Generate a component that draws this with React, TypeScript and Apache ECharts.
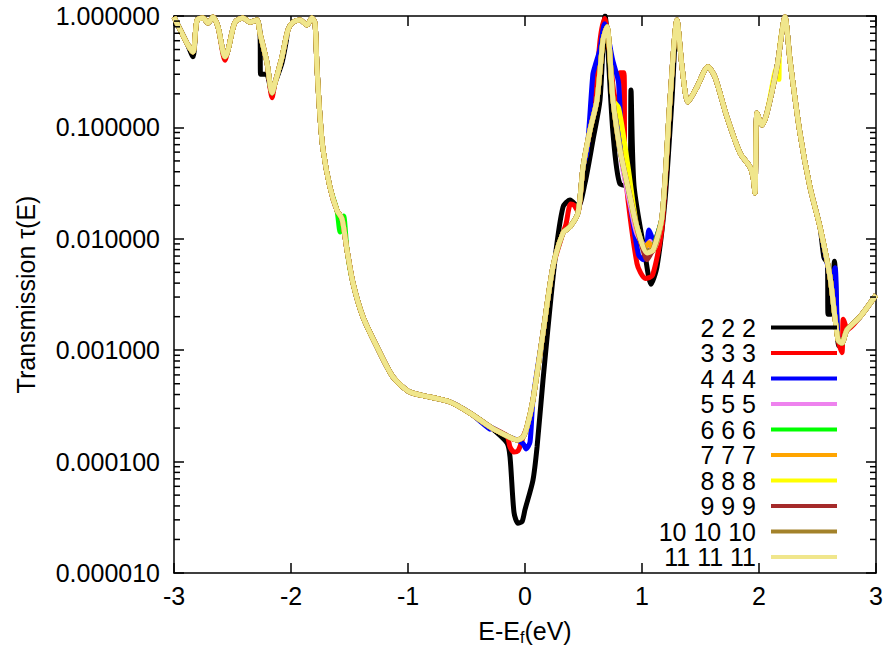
import React, { useEffect, useRef } from "react";
import * as echarts from "echarts";

// ---------- data ----------
const seriesNames = ["2 2 2", "3 3 3", "4 4 4", "5 5 5", "6 6 6", "7 7 7", "8 8 8", "9 9 9", "10 10 10", "11 11 11"];
const seriesColors = ["#000000", "#ff0000", "#0000ff", "#ee82ee", "#00ff00", "#ffa500", "#ffff00", "#a52a2a", "#a3822a", "#f0e68c"];

const xTicks = [-3, -2, -1, 0, 1, 2, 3];

// common (converged) curve, shared by all k-meshes
const baseX = [-3.0, -2.889, -2.838, -2.803, -2.752, -2.709, -2.667, -2.624, -2.564, -2.538, -2.479, -2.41, -2.35, -2.291, -2.265, -2.205, -2.162, -2.137, -2.077, -2.026, -1.983, -1.923, -1.863, -1.821, -1.795, -1.778, -1.752, -1.726, -1.667, -1.607, -1.564, -1.521, -1.47, -1.385, -1.265, -1.128, -0.983, -0.812, -0.641, -0.47, -0.299, -0.154, -0.068, -0.017, 0.017, 0.068, 0.154, 0.239, 0.325, 0.385, 0.453, 0.496, 0.556, 0.615, 0.667, 0.701, 0.752, 0.812, 0.88, 0.957, 1.043, 1.094, 1.171, 1.239, 1.299, 1.342, 1.393, 1.47, 1.564, 1.624, 1.726, 1.838, 1.923, 1.949, 1.966, 1.983, 2.026, 2.068, 2.154, 2.222, 2.265, 2.35, 2.436, 2.521, 2.607, 2.675, 2.709, 2.752, 2.863, 3.0];
const baseY = [0.98, 0.57, 0.475, 0.92, 0.96, 0.865, 0.98, 0.8, 0.43, 0.495, 0.88, 0.96, 0.88, 0.92, 0.7, 0.38, 0.204, 0.25, 0.43, 0.75, 0.88, 0.92, 0.83, 0.96, 0.865, 0.35, 0.124, 0.063, 0.029, 0.018, 0.0151, 0.0079, 0.004, 0.00199, 0.00107, 0.000574, 0.000421, 0.00038, 0.000343, 0.000273, 0.000205, 0.00017, 0.000156, 0.000166, 0.000205, 0.000357, 0.00143, 0.0056, 0.0113, 0.0128, 0.0171, 0.0441, 0.095, 0.176, 0.61, 0.8, 0.176, 0.063, 0.029, 0.0128, 0.00746, 0.0079, 0.0157, 0.176, 0.92, 0.35, 0.169, 0.231, 0.35, 0.283, 0.124, 0.0589, 0.0441, 0.0359, 0.0258, 0.135, 0.105, 0.135, 0.35, 0.98, 0.4, 0.089, 0.029, 0.0128, 0.00454, 0.00124, 0.00116, 0.00152, 0.00199, 0.00313];

// segments where each k-mesh departs from the common curve: [x, T(E)]
const dev222 = [
  [[-2.838, 0.43]],
  [[-2.26, 0.3], [-2.21, 0.3], [-2.17, 0.21]],
  [[-2.077, 0.38], [-2.04, 0.6]],
  [[-0.154, 0.000147], [-0.128, 0.00011], [-0.094, 0.000035], [-0.06, 0.000028], [-0.025, 0.000029], [0.0, 0.000037], [0.068, 0.000068], [0.103, 0.000135], [0.154, 0.00054], [0.256, 0.0065], [0.325, 0.0193], [0.385, 0.0223], [0.453, 0.0193], [0.513, 0.0317], [0.581, 0.077], [0.641, 0.176], [0.684, 1.0], [0.752, 0.089], [0.812, 0.031], [0.897, 0.03], [0.906, 0.217], [0.932, 0.03], [1.026, 0.0072], [1.077, 0.0039], [1.128, 0.0056], [1.197, 0.0223], [1.256, 0.176]],
  [[2.555, 0.0068], [2.585, 0.006], [2.59, 0.0021], [2.615, 0.0021], [2.645, 0.0063], [2.68, 0.0011]],
];
const dev333 = [
  [[-2.564, 0.4]],
  [[-2.162, 0.185]],
  [[-0.128, 0.000135], [-0.094, 0.000122], [-0.06, 0.000125], [-0.034, 0.000145]],
  [[0.35, 0.0135], [0.39, 0.0205], [0.42, 0.02], [0.453, 0.0175]],
  [[0.615, 0.3], [0.645, 0.65], [0.68, 0.95], [0.72, 0.5], [0.76, 0.2], [0.8, 0.13], [0.812, 0.31], [0.845, 0.31], [0.855, 0.045], [0.957, 0.006], [1.03, 0.0044], [1.09, 0.0047], [1.171, 0.0125]],
  [[2.709, 0.00095], [2.72, 0.0019], [2.745, 0.0016]],
];
const dev444 = [
  [[-0.3, 0.000195]],
  [[-0.017, 0.000145], [0.01, 0.00013], [0.043, 0.00015]],
  [[0.53, 0.06], [0.58, 0.3], [0.6, 0.36], [0.64, 0.5], [0.68, 0.85], [0.75, 0.4], [0.8, 0.25], [0.83, 0.06], [0.9, 0.02], [0.97, 0.0072], [1.01, 0.0065], [1.04, 0.0085], [1.06, 0.012], [1.1, 0.0095], [1.171, 0.0157]],
  [[2.62, 0.0045], [2.65, 0.0055]],
];
const dev555 = [
  [[0.84, 0.04], [0.9, 0.02], [0.957, 0.011], [1.04, 0.0085], [1.07, 0.0095], [1.1, 0.008]],
];
const dev666 = [
  [[-1.58, 0.0115], [-1.55, 0.016]],
  [[1.1, 0.0085]],
];
const dev777 = [
  [[0.86, 0.05], [0.93, 0.016], [1.02, 0.0082], [1.06, 0.0092]],
];
const dev888 = [
  [[0.8, 0.15], [0.88, 0.045]],
  [[2.154, 0.35], [2.17, 0.27], [2.175, 0.5]],
];
const dev999 = [
  [[1.0, 0.0085], [1.043, 0.0065], [1.08, 0.0075]],
];
const dev101010 = [
  [[1.043, 0.0078]],
];
const dev111111: number[][][] = [];

const deviations = [dev222, dev333, dev444, dev555, dev666, dev777, dev888, dev999, dev101010, dev111111];

// ---------- helpers ----------
function buildSeries(segments: number[][][]) {
  let pts = baseX.map((x, i) => [x, baseY[i]]);
  for (const seg of segments) {
    const lo = seg[0][0];
    const hi = seg[seg.length - 1][0];
    pts = pts.filter((p) => p[0] < lo || p[0] > hi).concat(seg);
  }
  return pts.sort((a, b) => a[0] - b[0]);
}

const minorTickValues: number[] = [];
for (let k = -5; k < 0; k++) {
  for (let m = 2; m <= 9; m++) minorTickValues.push(m * Math.pow(10, k));
}

const FONT = "'Liberation Sans', Arial, Helvetica, sans-serif";
const FS = 25;

export default function App() {
  const ref = useRef<HTMLDivElement>(null);
  useEffect(() => {
    if (!ref.current) return;
    const chart = echarts.init(ref.current, undefined, { renderer: "svg" });

    const lineSeries = seriesNames.map((name, i) => ({
      name,
      type: "line",
      data: buildSeries(deviations[i]),
      showSymbol: false,
      symbol: "none",
      smooth: 0.25,
      color: seriesColors[i],
      lineStyle: { width: 5, color: seriesColors[i] },
      z: 2,
      xAxisIndex: 0,
      yAxisIndex: 0,
    }));

    const axisLine = { show: true, onZero: false, lineStyle: { color: "#000", width: 1.5 } };
    const tick = { show: true, inside: true, length: 10, lineStyle: { color: "#000", width: 1.5 } };

    chart.setOption({
      animation: false,
      backgroundColor: "#ffffff",
      textStyle: { fontFamily: FONT },
      grid: { left: 174, right: 11, top: 16, bottom: 84, containLabel: false },
      legend: {
        data: seriesNames,
        orient: "vertical",
        align: "right",
        right: 50,
        top: 315,
        padding: 0,
        itemGap: 0.5,
        itemWidth: 66,
        itemHeight: 4,
        icon: "rect",
        selectedMode: false,
        textStyle: { fontSize: FS, color: "#000", fontFamily: FONT, padding: [0, 10, 0, 0] },
      },
      xAxis: [
        {
          type: "value",
          min: -3,
          max: 3,
          interval: 1,
          position: "bottom",
          axisLine,
          axisTick: tick,
          axisLabel: {
            fontSize: FS,
            color: "#000",
            margin: 10,
            fontFamily: FONT,
            formatter: (v: number) => String(xTicks.find((t) => Math.abs(t - v) < 1e-9) ?? v),
          },
          splitLine: { show: false },
          name: "{n|E-E}{s|f}{n|(eV)}",
          nameLocation: "middle",
          nameGap: 44,
          nameTextStyle: {
            color: "#000",
            fontFamily: FONT,
            fontSize: FS,
            rich: {
              n: { fontSize: FS, color: "#000", fontFamily: FONT },
              s: { fontSize: 16, color: "#000", fontFamily: FONT, padding: [12, 0, 0, 0] },
            },
          },
        },
        {
          type: "value",
          min: -3,
          max: 3,
          interval: 1,
          position: "top",
          axisLine,
          axisTick: tick,
          axisLabel: { show: false },
          splitLine: { show: false },
        },
      ],
      yAxis: [
        {
          type: "log",
          logBase: 10,
          min: 1e-5,
          max: 1,
          splitNumber: 5,
          position: "left",
          axisLine,
          axisTick: tick,
          axisLabel: {
            fontSize: FS,
            color: "#000",
            margin: 14,
            fontFamily: FONT,
            formatter: (v: number) => v.toFixed(6),
          },
          splitLine: { show: false },
          name: "Transmission τ(E)",
          nameLocation: "middle",
          nameGap: 136,
          nameTextStyle: { color: "#000", fontSize: FS, fontFamily: FONT },
        },
        {
          type: "log",
          logBase: 10,
          min: 1e-5,
          max: 1,
          splitNumber: 5,
          position: "right",
          axisLine,
          axisTick: tick,
          axisLabel: { show: false },
          splitLine: { show: false },
        },
      ],
      series: [
        ...lineSeries,
        {
          type: "custom",
          name: "minorTicks",
          coordinateSystem: "cartesian2d",
          silent: true,
          xAxisIndex: 0,
          yAxisIndex: 0,
          clip: false,
          z: 10,
          data: minorTickValues.map((v) => [0, v]),
          encode: { x: 0, y: 1 },
          renderItem: (_params: any, api: any) => {
            const v = api.value(1);
            const l = api.coord([-3, v]);
            const r = api.coord([3, v]);
            return {
              type: "group",
              children: [
                { type: "line", shape: { x1: l[0], y1: l[1], x2: l[0] + 6, y2: l[1] }, style: { stroke: "#000", lineWidth: 1.5 } },
                { type: "line", shape: { x1: r[0] - 6, y1: r[1], x2: r[0], y2: r[1] }, style: { stroke: "#000", lineWidth: 1.5 } },
              ],
            };
          },
        },
      ],
    });

    return () => chart.dispose();
  }, []);

  return <div ref={ref} style={{ position: "absolute", left: 0, top: 0, width: 887, height: 657 }} />;
}
